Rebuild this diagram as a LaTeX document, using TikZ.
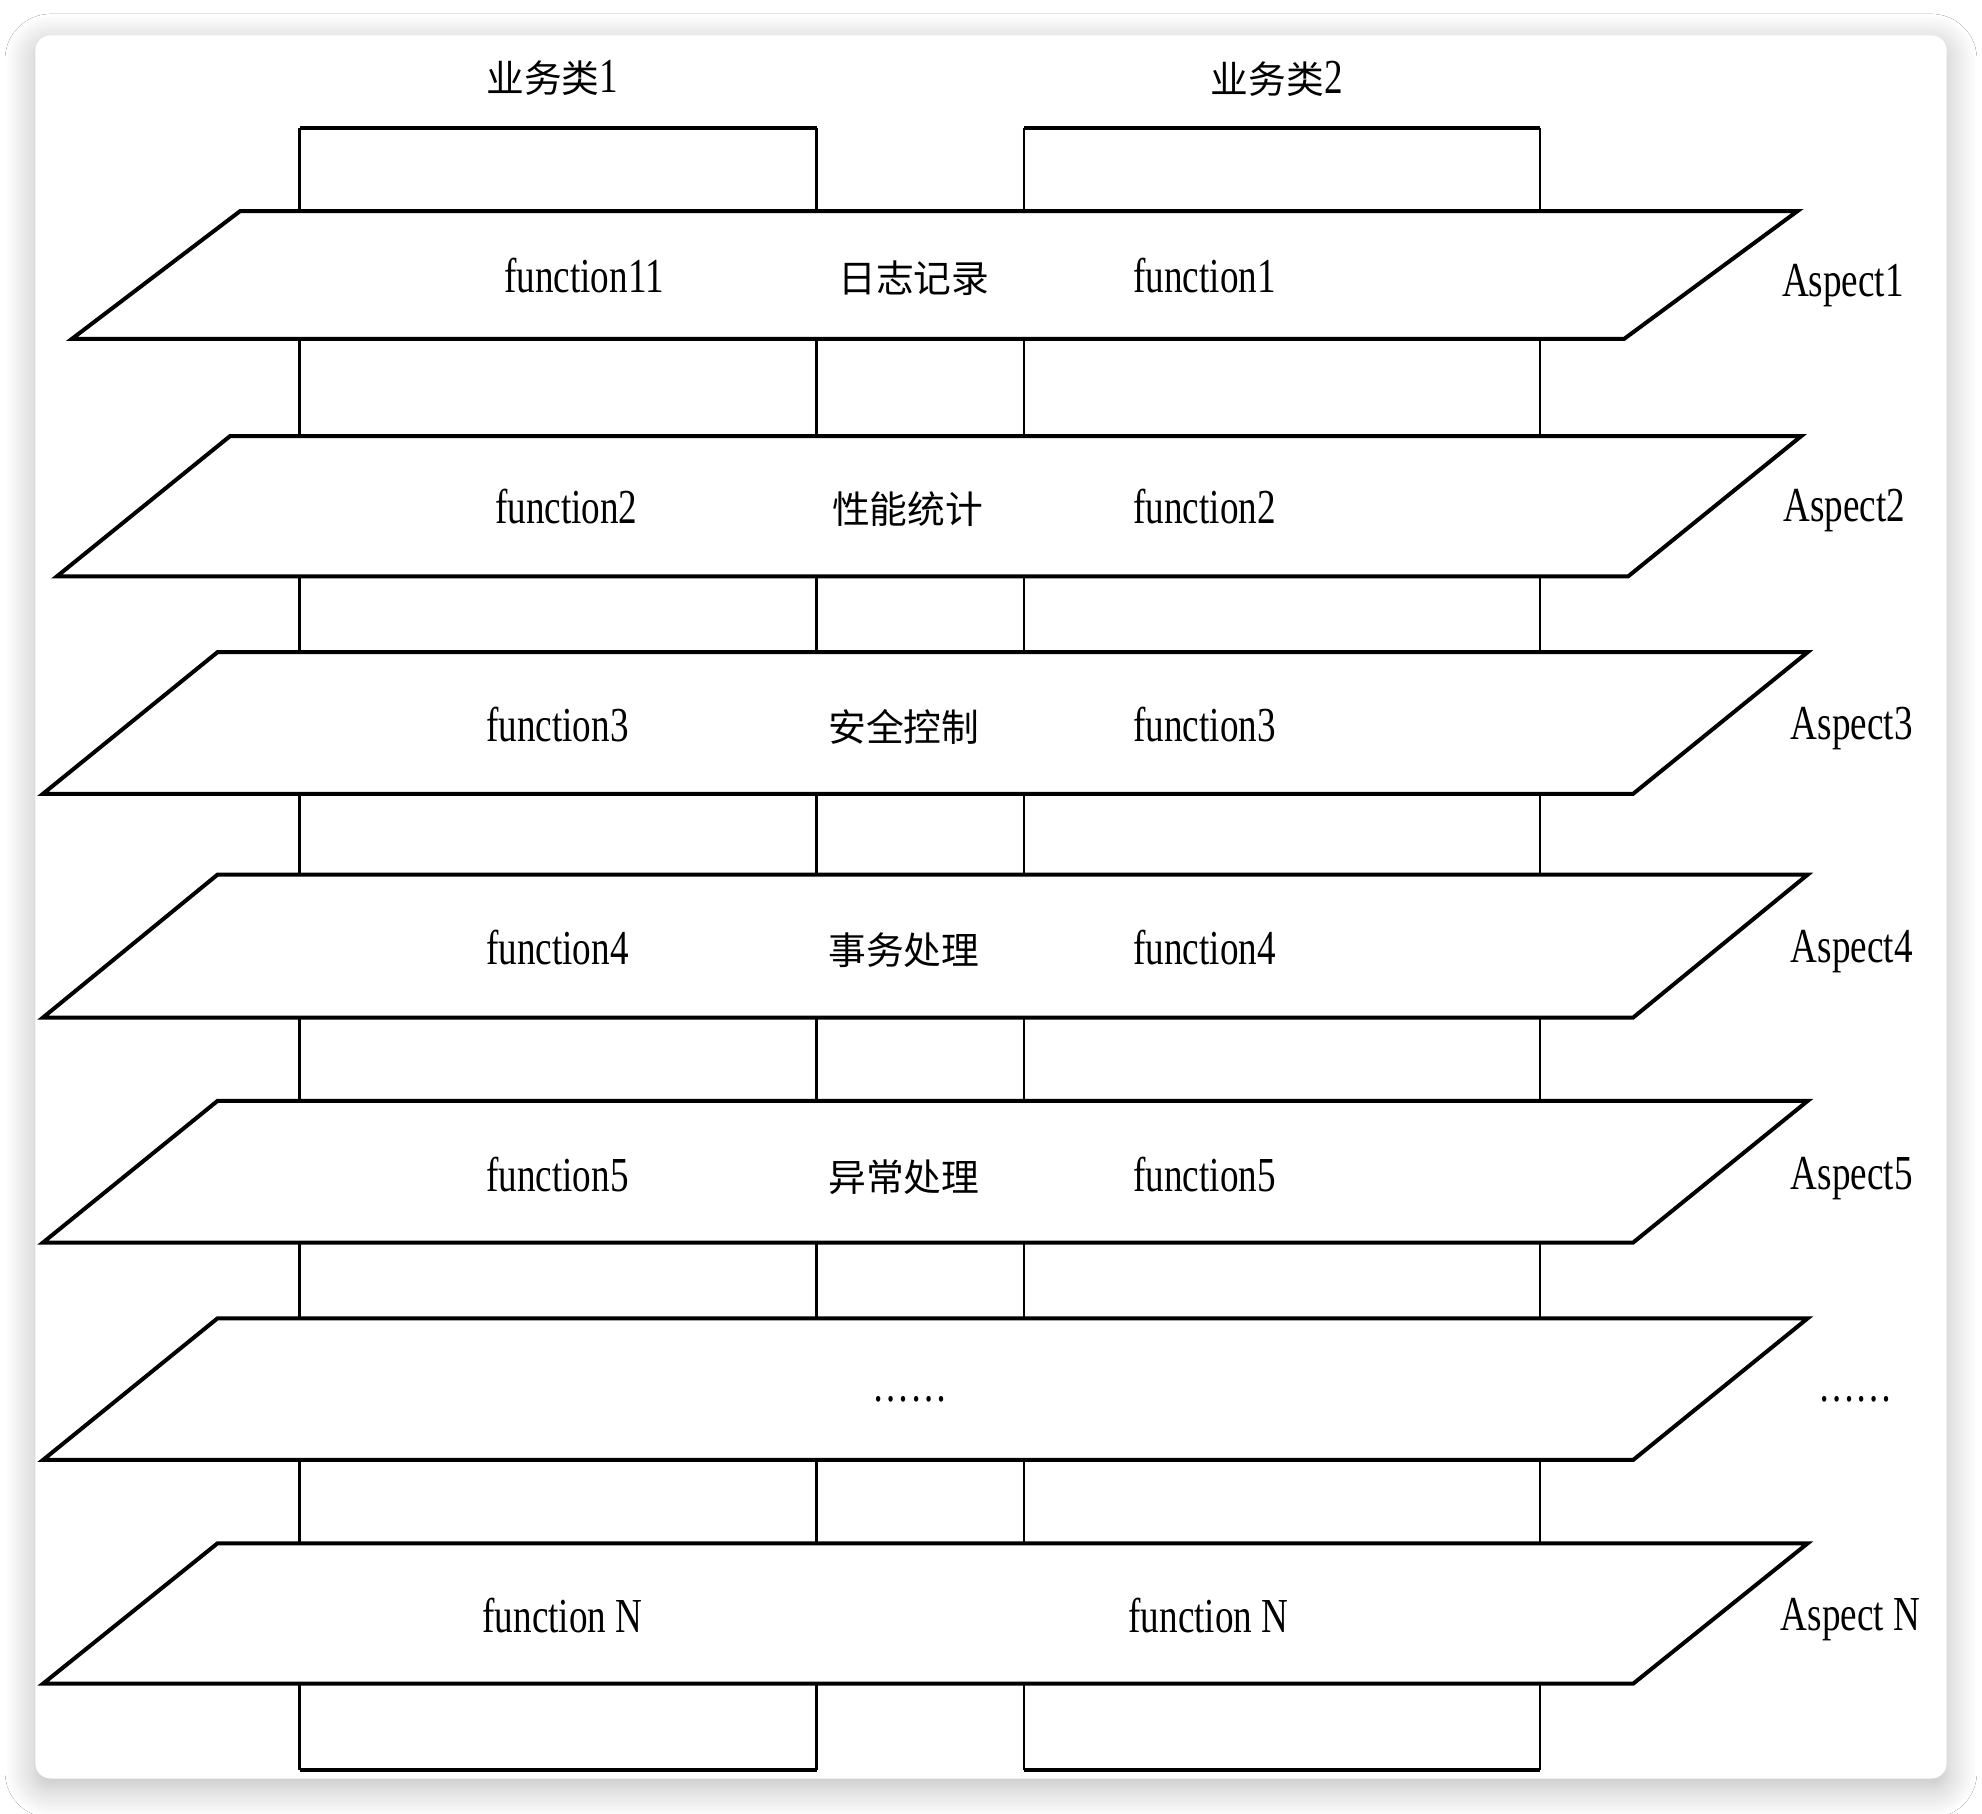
\documentclass[tikz,border=0pt]{standalone}
\usepackage{fontspec}
\setmainfont{Liberation Serif}[FakeStretch=0.76]
\newfontfamily\cjk{Noto Sans CJK SC}
\usetikzlibrary{shadows.blur}

\tikzset{
  plane/.style={draw, fill=white, line width=0.9pt, line join=miter},
  busside/.style={line width=0.5pt},
  busedge/.style={line width=0.9pt},
  lbl/.style={inner sep=0pt, font=\fontsize{11}{13}\selectfont},
  zh/.style={inner sep=0pt, font=\cjk\fontsize{8.5}{10}\selectfont}
}

\begin{document}
\begin{tikzpicture}[x=1cm, y=-1cm]
			%%%%% FRAME %%%%%
			\useasboundingbox (0, 0) rectangle (15.68, 14.35);
			\fill[white] (0, 0) rectangle (15.68, 14.35);
			\fill[white, rounded corners=0.12cm, blur shadow={shadow xshift=0cm, shadow yshift=-0.07cm, shadow blur radius=0.24cm, shadow blur steps=12, shadow opacity=28}] (0.28, 0.28) rectangle (15.40, 14.07);
			
			%%%%% BUSINESS CLASSES %%%%%
			\draw[busside] (2.37, 1.01) -- (2.37, 14.00);
			\draw[busside] (6.46, 1.01) -- (6.46, 14.00);
			\draw[busedge] (2.37, 1.01) -- (6.46, 1.01);
			\draw[busedge] (2.37, 14.00) -- (6.46, 14.00);
			
			\draw[busside] (8.10, 1.01) -- (8.10, 14.00);
			\draw[busside] (12.18, 1.01) -- (12.18, 14.00);
			\draw[busedge] (8.10, 1.01) -- (12.18, 1.01);
			\draw[busedge] (8.10, 14.00) -- (12.18, 14.00);
			
			\node[zh] (bus1) at (4.37, 0.62) {业务类\fontspec{Liberation Serif}[FakeStretch=0.76]\fontsize{11}{13}\selectfont 1};
			\node[zh] (bus2) at (10.10, 0.62) {业务类\fontspec{Liberation Serif}[FakeStretch=0.76]\fontsize{11}{13}\selectfont 2};
			
			%%%%% ASPECT PLANES %%%%%
			\draw[plane] (1.90, 1.67) -- (14.22, 1.67) -- (12.85, 2.68) -- (0.57, 2.68) -- cycle;
			\node[lbl] (f11) at (4.62, 2.18) {function11};
			\node[zh] (log) at (7.23, 2.20) {日志记录};
			\node[lbl] (f12) at (9.53, 2.18) {function1};
			\node[lbl] (asp1) at (14.58, 2.26) {Aspect1};
			
			\draw[plane] (1.82, 3.45) -- (14.25, 3.45) -- (12.88, 4.56) -- (0.45, 4.56) -- cycle;
			\node[lbl] (f21) at (4.48, 4.01) {function2};
			\node[zh] (perf) at (7.18, 4.03) {性能统计};
			\node[lbl] (f22) at (9.53, 4.01) {function2};
			\node[lbl] (asp2) at (14.59, 4.04) {Aspect2};
			
			\draw[plane] (1.72, 5.16) -- (14.30, 5.16) -- (12.92, 6.28) -- (0.34, 6.28) -- cycle;
			\node[lbl] (f31) at (4.41, 5.73) {function3};
			\node[zh] (sec) at (7.15, 5.75) {安全控制};
			\node[lbl] (f32) at (9.53, 5.73) {function3};
			\node[lbl] (asp3) at (14.65, 5.76) {Aspect3};
			
			\draw[plane] (1.72, 6.92) -- (14.30, 6.92) -- (12.92, 8.05) -- (0.34, 8.05) -- cycle;
			\node[lbl] (f41) at (4.41, 7.50) {function4};
			\node[zh] (tx) at (7.15, 7.52) {事务处理};
			\node[lbl] (f42) at (9.53, 7.50) {function4};
			\node[lbl] (asp4) at (14.65, 7.53) {Aspect4};
			
			\draw[plane] (1.72, 8.71) -- (14.30, 8.71) -- (12.92, 9.83) -- (0.34, 9.83) -- cycle;
			\node[lbl] (f51) at (4.41, 9.29) {function5};
			\node[zh] (exc) at (7.15, 9.31) {异常处理};
			\node[lbl] (f52) at (9.53, 9.29) {function5};
			\node[lbl] (asp5) at (14.65, 9.32) {Aspect5};
			
			\draw[plane] (1.72, 10.43) -- (14.30, 10.43) -- (12.92, 11.55) -- (0.34, 11.55) -- cycle;
			\node[lbl] (dots) at (7.20, 11.07) {……};
			\node[lbl] (aspdots) at (14.68, 11.07) {……};
			
			\draw[plane] (1.72, 12.21) -- (14.30, 12.21) -- (12.92, 13.32) -- (0.34, 13.32) -- cycle;
			\node[lbl] (fn1) at (4.45, 12.78) {function N};
			\node[lbl] (fn2) at (9.56, 12.78) {function N};
			\node[lbl] (aspn) at (14.64, 12.81) {Aspect N};
			
			%%%%% END %%%%%
\end{tikzpicture}
\end{document}
